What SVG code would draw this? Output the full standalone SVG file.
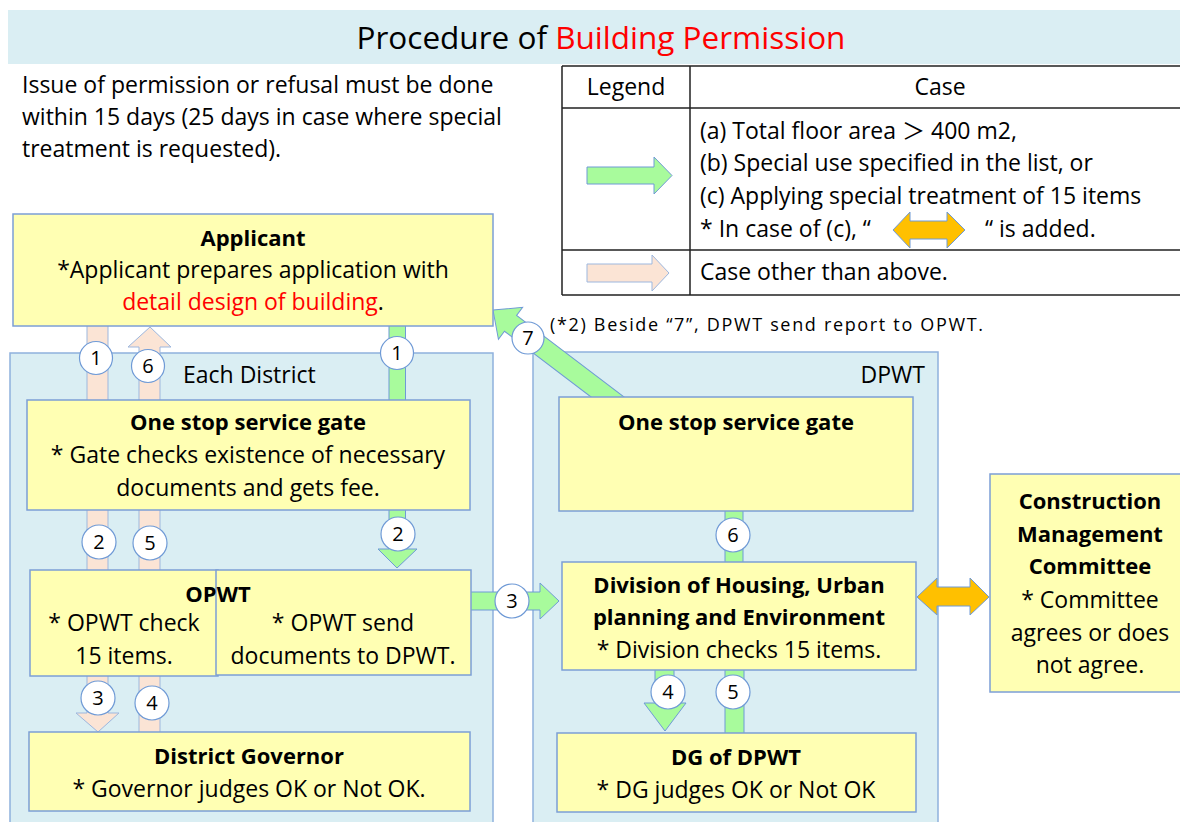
<svg xmlns="http://www.w3.org/2000/svg" width="1180" height="822" viewBox="0 0 1180 822">
<style>
text{font-family:"Open Sans","Liberation Sans",Arial,sans-serif;fill:#000}
.t{font-size:23px}
.b{font-size:22px;font-weight:bold}
.c{text-anchor:middle}
.red{fill:#FF0000}
.cjk{font-family:"Noto Sans CJK JP",sans-serif}
.box{fill:#FFFFB3;stroke:#7C9FD6;stroke-width:1.5}
.cont{fill:#DAEEF3;stroke:#8FB1DD;stroke-width:1.5}
.g{fill:#A8FB9C;stroke:#6F9AD6;stroke-width:1}
.p{fill:#FBE4D5;stroke:#9DB7DE;stroke-width:1}
.o{fill:#FFC000;stroke:#6F9AD6;stroke-width:1}
.num circle{fill:#fff;stroke:#6F9AD6;stroke-width:1.2}
.num text{font-size:20px;text-anchor:middle}
.tbl{stroke:#222;stroke-width:1.5;fill:none}
</style>
<rect width="1180" height="822" fill="#fff"/>

<g id="title">
<rect x="8" y="10" width="1172" height="54" fill="#DAEEF3"/>
<text x="601" y="49" style="font-size:31.5px" class="c">Procedure of <tspan class="red">Building Permission</tspan></text>
</g>

<g id="note">
<text class="t" x="22" y="93">Issue of permission or refusal must be done</text>
<text class="t" x="22" y="125">within 15 days (25 days in case where special</text>
<text class="t" x="22" y="157">treatment is requested).</text>
</g>

<g id="legend">
<path class="tbl" d="M562,66H1180M562,108H1180M562,250H1180M562,295H1180M562,66V295M690,66V295"/>
<text class="t c" x="626" y="95">Legend</text>
<text class="t c" x="940" y="95">Case</text>
<polygon class="g" points="587,167 654,167 654,157 672,175.5 654,194 654,184 587,184"/>
<text class="t" x="700" y="139">(a) Total floor area <tspan class="cjk">＞</tspan> 400 m2,</text>
<text class="t" x="700" y="171">(b) Special use specified in the list, or</text>
<text class="t" x="700" y="204">(c) Applying special treatment of 15 items</text>
<text class="t" x="700" y="237">* In case of (c), “</text>
<polygon class="o" points="893,230 910,212 910,221 947,221 947,212 965,230 947,248 947,239 910,239 910,248"/>
<text class="t" x="985" y="237">“ is added.</text>
<polygon class="p" points="587,264 652,264 652,255 669,273 652,291 652,282 587,282"/>
<text class="t" x="700" y="280">Case other than above.</text>
</g>

<g id="each-district">
<rect class="cont" x="10" y="353" width="483" height="480"/>
<text class="t" x="183" y="383">Each District</text>
</g>
<g id="dpwt">
<rect class="cont" x="533" y="352" width="405" height="480"/>
<text class="t" x="925" y="383" style="text-anchor:end">DPWT</text>
</g>

<g id="connectors">
<rect class="p" x="87" y="320" width="21" height="82"/>
<polygon class="p" points="150,327 171,347 160,347 160,402 139,402 139,347 128,347"/>
<rect class="g" x="389" y="320" width="16.5" height="82"/>
<rect class="p" x="87" y="508" width="21" height="64"/>
<rect class="p" x="139" y="508" width="21" height="64"/>
<polygon class="g" points="389,508 405.5,508 405.5,549 417,549 397,568 378,549 389,549"/>
<polygon class="p" points="87,674 108,674 108,713 119,713 98,732 76,713 87,713"/>
<rect class="p" x="139" y="674" width="21" height="60"/>
<polygon class="g" points="469,592 540,592 540,583 559,601 540,619 540,610 469,610"/>
<polygon class="g" transform="translate(493,310) rotate(37.2)" points="0,0 22,-20 22,-10 160,-10 160,10 22,10 22,20"/>
<rect class="g" x="725" y="509" width="18" height="55"/>
<polygon class="g" points="655,668 674,668 674,703 686,703 665,731 644,703 655,703"/>
<rect class="g" x="725" y="668" width="19" height="66"/>
<polygon class="o" points="917,597 937,578 937,587 970,587 970,578 989,597 970,615 970,606 937,606 937,615"/>
</g>

<g id="applicant">
<rect class="box" x="13" y="214" width="480" height="112"/>
<text class="b c" x="253" y="246">Applicant</text>
<text class="t c" x="253" y="278">*Applicant prepares application with</text>
<text class="t c" x="253" y="310"><tspan class="red">detail design of building</tspan>.</text>
</g>

<g id="district-gate">
<rect class="box" x="27" y="400" width="443" height="110"/>
<text class="b c" x="248" y="430">One stop service gate</text>
<text class="t c" x="248" y="463">* Gate checks existence of necessary</text>
<text class="t c" x="248" y="496">documents and gets fee.</text>
</g>

<g id="opwt">
<rect class="box" x="30" y="570" width="188" height="106"/>
<rect class="box" x="216" y="570" width="255" height="105"/>
<text class="b c" x="218" y="602">OPWT</text>
<text class="t c" x="124" y="631">* OPWT check</text>
<text class="t c" x="124" y="664">15 items.</text>
<text class="t c" x="343" y="631">* OPWT send</text>
<text class="t c" x="343" y="664">documents to DPWT.</text>
</g>

<g id="district-governor">
<rect class="box" x="29" y="732" width="441" height="79"/>
<text class="b c" x="249" y="764">District Governor</text>
<text class="t c" x="249" y="797">* Governor judges OK or Not OK.</text>
</g>

<g id="dpwt-gate">
<rect class="box" x="559" y="397" width="354" height="114"/>
<text class="b c" x="736" y="430">One stop service gate</text>
</g>

<g id="division">
<rect class="box" x="562" y="562" width="354" height="108"/>
<text class="b c" x="739" y="593">Division of Housing, Urban</text>
<text class="b c" x="739" y="625">planning and Environment</text>
<text class="t c" x="739" y="658">* Division checks 15 items.</text>
</g>

<g id="dg-dpwt">
<rect class="box" x="557" y="733" width="359" height="79"/>
<text class="b c" x="736" y="765">DG of DPWT</text>
<text class="t c" x="736" y="798">* DG judges OK or Not OK</text>
</g>

<g id="committee">
<rect class="box" x="990" y="474" width="200" height="218"/>
<text class="b c" x="1090" y="509">Construction</text>
<text class="b c" x="1090" y="542">Management</text>
<text class="b c" x="1090" y="574">Committee</text>
<text class="t c" x="1090" y="608">* Committee</text>
<text class="t c" x="1090" y="641">agrees or does</text>
<text class="t c" x="1090" y="673">not agree.</text>
</g>

<g id="footnote">
<text x="550" y="331" style="font-size:18px" textLength="433" lengthAdjust="spacing">(*2) Beside “7”, DPWT send report to OPWT.</text>
</g>

<g id="step-labels" class="num">
<circle cx="96" cy="358" r="16.5"/><text x="96" y="365">1</text>
<circle cx="148" cy="366" r="16.5"/><text x="148" y="373">6</text>
<circle cx="397" cy="353" r="16.5"/><text x="397" y="360">1</text>
<circle cx="99" cy="542" r="17"/><text x="99" y="549">2</text>
<circle cx="150" cy="543" r="17"/><text x="150" y="550">5</text>
<circle cx="398" cy="534" r="17"/><text x="398" y="541">2</text>
<circle cx="98" cy="698" r="17"/><text x="98" y="705">3</text>
<circle cx="152" cy="703" r="17"/><text x="152" y="710">4</text>
<circle cx="512" cy="601" r="17"/><text x="512" y="608">3</text>
<circle cx="528" cy="338" r="16"/><text x="528" y="345">7</text>
<circle cx="733" cy="535" r="17"/><text x="733" y="542">6</text>
<circle cx="668" cy="692" r="17"/><text x="668" y="699">4</text>
<circle cx="733" cy="692" r="17"/><text x="733" y="699">5</text>
</g>
</svg>
